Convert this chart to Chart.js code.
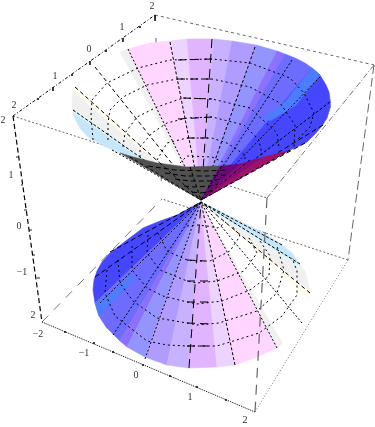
<!DOCTYPE html>
<html><head><meta charset="utf-8">
<style>html,body{margin:0;padding:0;background:#fff}canvas{display:block}</style>
<script src="https://cdn.jsdelivr.net/npm/chart.js@4"></script>
</head><body><canvas id="c" width="375" height="427"></canvas>
<script>
// Values, in the plot's own units
const upperApex=[201,200], lowerApex=[201,202];
const upperRimX=[120,108,97,87,80,75,73,72,72,73,76,95,120,128,150,170,187,214,232,256,277,285,295,305,312,320,326,329,330,330,327,322,315,307,299,290];
const upperRimY=[153,148,142,136,128,119,112,108,100,91,86,67,52,49,43,41,39,39,41,45,51,54,58,63,68,75,85,92,100,108,118,126,134,142,146,150];
const upperBandStart=[0,6,7,9,10,12,13,15,16,17,18,19,20,21,24];
const upperBandEnd=[6,7,9,10,12,13,15,16,17,18,19,20,21,24,35];
const bandColors=['#c6e6fb','#dcf8f4','#f0f0f0','#fffbf0','#ffffff','#f0f0f0','#ffd6ff','#ecd4ff','#e0b4ff','#c8b2ff','#b09cff','#9494ff','#8c70ff','#6c6cff','#4646ff'];
const sliverColor='#4c7cff';
const upperSliver=[[312,68],[320,75],[296,105],[270,121],[265,117],[285,102]];
const lowerSliver=[[95,303],[99,316],[118,296],[135,277],[131,274],[115,291]];
const outerRimX=[120,133,157,187,220,240,264,290];
const outerRimY=[153,157,163,167,166,164,157,150];
const outerBandStart=[0,4,5,6];
const outerBandEnd=[4,5,6,7];
const outerColors=['#505050','#6a0a7a','#880c74','#a01268'];
const lowerRimX=[177,160,143,127,110,102,97,94,93,95,99,106,120,127,136,145,167,189,217,235,257,277,283,310,310,305,300,292,282,267,224];
const lowerRimY=[215,221,228,240,253,262,271,280,290,303,316,327,341,347,352,357,365,368,367,365,357,348,343,300,291,271,265,253,245,235,213];
const lowerBandStart=[0,9,12,13,15,16,17,18,19,21,22,23,24,25,26];
const lowerBandEnd=[9,12,13,15,16,17,18,19,21,22,23,24,25,26,30];
const lowerColors=['#4646ff','#6c6cff','#8c70ff','#9494ff','#b09cff','#c8b2ff','#e0b4ff','#ecd4ff','#ffd6ff','#f0f0f0','#ffffff','#fffbf0','#f0f0f0','#dcf8f4','#c6e6fb'];

const upperSpokesX=[112,73,75,95,128,170,212,255,292,320,330,323,305];
const upperSpokesY=[150,110,87,67,49,42,39,47,60,77,102,125,143];
const upperSpokeDash=[[2,2],[3,2],[4,3],[4,3],[2,2],[3,2],[9,6],[3,2],[2,2],[2,2],[3,2],[5,3],[5,3]];
const lowerSpokesX=[110,95,100,113,145,189,235,277,302,310,300,282];
const lowerSpokesY=[252,277,303,335,359,368,365,348,323,293,264,245];
const lowerSpokeDash=[[5,3],[5,3],[2,2],[2,2],[2,2],[9,6],[3,2],[2,2],[2,2],[4,3],[3,2],[3,2]];
const outerSpokesX=[130,160,190,222,250,290];
const outerSpokesY=[157,163,167,166,160,150];

const upperRings=[
 [[93,140],[91,115],[92,100],[107,83],[138,68],[170,60],[212,59],[250,63],[290,78],[304,93],[314,113],[310,127],[297,140]],
 [[108,140],[108,123],[110,110],[123,97],[147,85],[177,79],[212,79],[250,87],[280,103],[295,125],[294,148]],
 [[123,147],[125,133],[137,117],[157,107],[183,98],[212,99],[250,108],[277,133],[279,147]],
 [[140,157],[140,147],[152,133],[167,123],[187,118],[212,117],[244,125],[259,140],[262,155]],
 [[157,160],[167,143],[187,138],[212,138],[227,143],[245,155],[245,162]],
 [[180,163],[187,156],[212,157],[225,163]]
];
const upperRingDashes=[[[178,60],[212,59]],[[177,79],[212,79]],[[183,98],[212,99]],[[178,119],[212,117]],[[187,138],[212,138]]];
const lowerRings=[
 [[187,226],[197,225],[207,226],[218,228],[226,222]],
 [[158,233],[167,251],[187,260],[197,261],[210,261],[230,251],[240,236],[232,226]],
 [[148,235],[147,253],[160,270],[187,281],[197,283],[217,281],[244,271],[257,253],[248,236]],
 [[132,246],[132,270],[147,288],[163,296],[187,302],[197,304],[222,301],[250,290],[269,276],[270,256],[260,241]],
 [[118,260],[120,283],[133,301],[157,318],[187,323],[197,325],[219,323],[257,311],[277,293],[284,270],[277,246]],
 [[107,270],[105,293],[115,316],[147,341],[167,345],[187,346],[217,346],[259,333],[282,316],[297,295],[297,271],[292,258]]
];
const lowerRingDashes=[[[187,260],[205,261]],[[187,281],[212,281]],[[187,302],[212,302]],[[187,323],[212,324]],[[187,346],[212,346]]];
const darkRows=[
 [[148,166],[175,170],[205,171],[228,170]],
 [[165,173],[185,176],[208,176],[226,175]],
 [[175,179],[190,181],[210,181],[222,179]],
 [[184,186],[195,187],[210,186],[218,184]],
 [[192,192],[200,193],[208,192],[212,190]]
];

const boxSolid=[
 {p:[[155,15],[374,65]],dash:[3,3],c:'#666'},
 {p:[[374,65],[267,198]],dash:[6,2,1,2],c:'#777'},
 {p:[[13,116],[267,198]],dash:[2,2],c:'#666'},
 {p:[[374,65],[348,260]],dash:[9,4],c:'#666'},
 {p:[[348,260],[255,412]],dash:[1,2],c:'#777'},
 {p:[[348,260],[162,199]],dash:[2,2],c:'#666'},
 {p:[[42,322],[162,199]],dash:[9,8],c:'#777'},
 {p:[[155,15],[162,199]],dash:[5,18],c:'#666'}
];
const frontEdge=[[267,198],[255,412]];
const axisTop=[[13,116],[155,15]];
const axisLeft=[[13,116],[42,322]];
const axisBottom=[[42,322],[255,412]];
const tickSegments=[[[155,15],[155,21]],[[123,38],[123,42]],[[90,61],[90,65]],[[53,87],[53,91]],[[140,26],[140,28]],[[106,50],[106,52]],[[72,74],[72,76]],[[38,98],[38,100]],
 [[16,157],[19,157]],[[24,210],[27,210]],[[29,230],[32,230]],[[37,278],[40,278]],[[21,185],[23,185]],[[33,255],[35,255]],
 [[65,331],[65,333]],[[94,342],[94,344]],[[113,351],[113,353]],[[143,364],[143,366]],[[197,386],[197,388]],[[170,375],[170,377]],[[226,399],[226,401]]];
const tickText=['2','1','0','1','2','2','1','0','−1','2','−2','−1','0','1','2'];
const tickTextX=[152,122,89,55,14,3,11,19,22,33,38,84,136,190,245];
const tickTextY=[6,27,49,76,105,120,175,226,272,315,334,353,375,397,420];

const poly=(pts,color)=>({data:pts.map(p=>({x:p[0],y:p[1]})),showLine:true,fill:'shape',backgroundColor:color,borderColor:color,borderWidth:0.6,pointRadius:0,tension:0});
const line=(pts,color,width,dash)=>({data:pts.map(p=>({x:p[0],y:p[1]})),showLine:true,fill:false,borderColor:color,borderWidth:width,borderDash:dash||[],pointRadius:0,tension:0});
const fan=(apex,X,Y,a,b,color)=>{const pts=[apex];for(let i=a;i<=b;i++)pts.push([X[i],Y[i]]);pts.push(apex);return poly(pts,color);};

const layers=[];
boxSolid.forEach(e=>layers.push(line(e.p,e.c,1,e.dash)));
upperBandStart.forEach((s,i)=>layers.push(fan(upperApex,upperRimX,upperRimY,s,upperBandEnd[i],bandColors[i])));
layers.push(poly(upperSliver.concat([upperSliver[0]]),sliverColor));
upperSpokesX.forEach((x,i)=>layers.push(line([[x,upperSpokesY[i]],upperApex],'#000',1,upperSpokeDash[i])));
upperRings.forEach(r=>layers.push(line(r,'#000',1,[2,3])));
upperRingDashes.forEach(r=>layers.push(line(r,'#000',1,[8,5])));
outerBandStart.forEach((s,i)=>layers.push(fan(upperApex,outerRimX,outerRimY,s,outerBandEnd[i],outerColors[i])));
outerSpokesX.forEach((x,i)=>layers.push(line([[x,outerSpokesY[i]],upperApex],'#000',1,[3,3])));
darkRows.forEach(r=>layers.push(line(r,'#000',1,[5,3])));
lowerBandStart.forEach((s,i)=>layers.push(fan(lowerApex,lowerRimX,lowerRimY,s,lowerBandEnd[i],lowerColors[i])));
layers.push(poly(lowerSliver.concat([lowerSliver[0]]),sliverColor));
lowerSpokesX.forEach((x,i)=>layers.push(line([[x,lowerSpokesY[i]],lowerApex],'#000',1,lowerSpokeDash[i])));
lowerRings.forEach(r=>layers.push(line(r,'#000',1,[2,3])));
lowerRingDashes.forEach(r=>layers.push(line(r,'#000',1,[8,5])));
layers.push(line(frontEdge,'#666',1.2,[10,7]));
layers.push(line(axisTop,'#000',1,[3,2,1,2]));
layers.push(line(axisLeft,'#000',1.2,[5,3]));
layers.push(line(axisBottom,'#000',1,[1,1]));
tickSegments.forEach(t=>layers.push(line(t,'#222',1)));

const tickLabels={id:'tickLabels',afterDatasetsDraw(ch){
 const {ctx,scales:{x,y}}=ch;ctx.save();ctx.font='10px "Liberation Serif"';ctx.fillStyle='#333';ctx.textAlign='center';ctx.textBaseline='middle';
 tickText.forEach((t,i)=>ctx.fillText(t,x.getPixelForValue(tickTextX[i]),y.getPixelForValue(tickTextY[i])));ctx.restore();}};

new Chart(document.getElementById('c'),{type:'scatter',data:{datasets:layers.reverse()},plugins:[tickLabels],
 options:{responsive:false,animation:false,layout:{padding:0},plugins:{legend:{display:false},tooltip:{enabled:false}},
 scales:{x:{type:'linear',min:0,max:375,display:false},y:{type:'linear',min:0,max:427,reverse:true,display:false}}}});
</script></body></html>
